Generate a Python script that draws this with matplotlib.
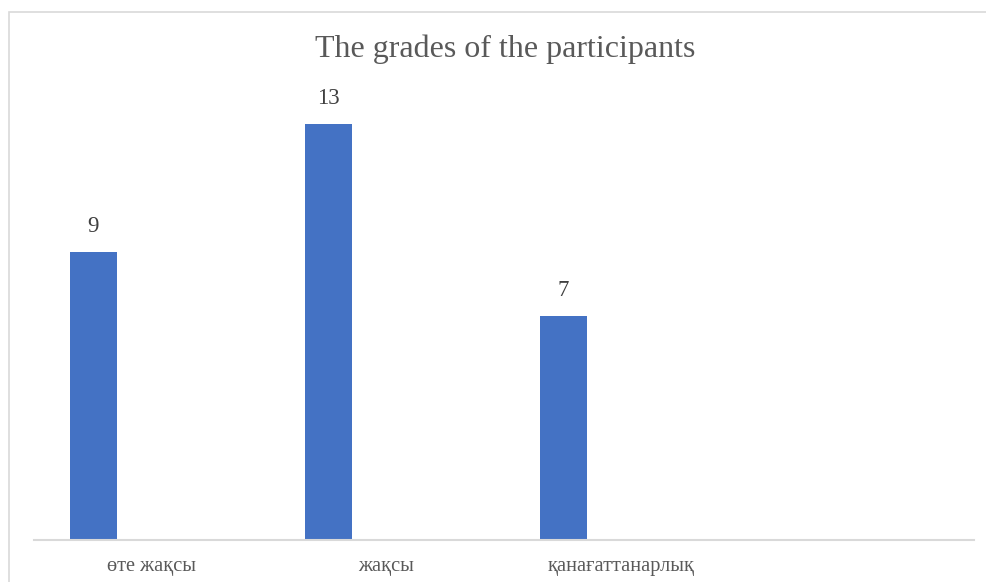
import numpy as np
import matplotlib.pyplot as plt
from matplotlib.patches import Rectangle

categories = ["өте жақсы", "жақсы", "қанағаттанарлық"]
grades = [9, 13, 7]
n_slots = 4  # the chart keeps an empty fourth category slot

plt.rcParams['font.family'] = ['Liberation Serif', 'DejaVu Serif']

fig = plt.figure(figsize=(9.86, 5.82), dpi=100)
ax = fig.add_axes([34 / 986, 42 / 582, 940 / 986, 448 / 582])

x = np.arange(len(categories))
bars = ax.bar(x - 0.247, grades, width=0.2, color="#4472C4")
for b, v in zip(bars, grades):
    ax.annotate(str(v), (b.get_x() + b.get_width() / 2, v), xytext=(0, 11),
                textcoords="offset points", ha="center", va="bottom",
                fontsize=16.5, color="#404040")

ax.set_xlim(-0.5, n_slots - 0.5)
ax.set_ylim(0, 14)
ax.set_xticks(x)
ax.set_xticklabels(categories, fontsize=14.7, color="#595959")
ax.tick_params(axis="x", length=0, pad=12.5)
ax.set_yticks([])
for side in ["top", "right", "left"]:
    ax.spines[side].set_visible(False)
ax.spines["bottom"].set_color("#d9d9d9")
ax.spines["bottom"].set_linewidth(1.5)

fig.text(505 / 986, 1 - 49 / 582, "The grades of the participants",
         ha="center", va="center", fontsize=23, color="#595959")

# outer chart frame
fig.patches.append(Rectangle((8.5 / 986, -0.1), 1.2, 1 - 12 / 582 + 0.1,
                             transform=fig.transFigure, fill=False,
                             edgecolor="#d9d9d9", linewidth=1.2))

fig.savefig("out.png", dpi=100)
